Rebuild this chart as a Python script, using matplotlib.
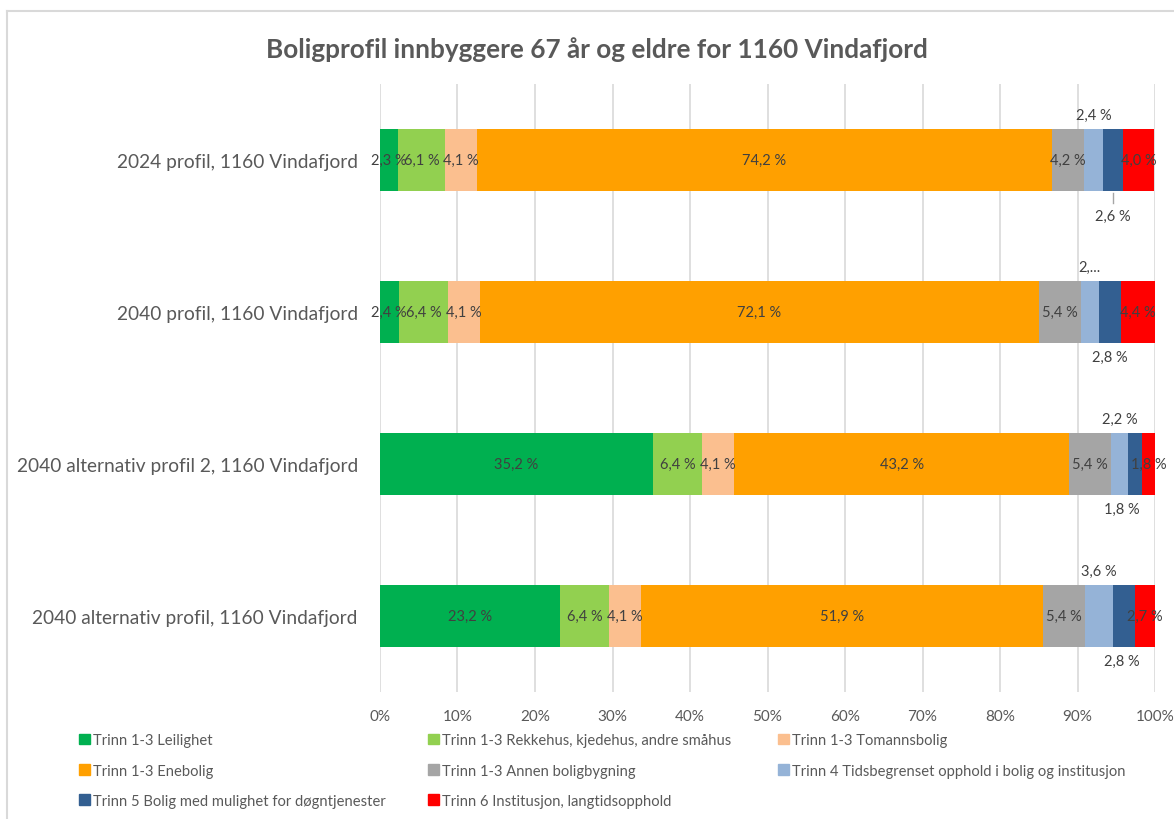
import numpy as np
import matplotlib.pyplot as plt
from matplotlib.patches import Patch

plt.rcParams['font.family'] = ['Lato', 'DejaVu Sans']

categories = ['2024 profil, 1160 Vindafjord',
              '2040 profil, 1160 Vindafjord',
              '2040 alternativ profil 2, 1160 Vindafjord',
              '2040 alternativ profil, 1160 Vindafjord']

series = ['Trinn 1-3 Leilighet',
          'Trinn 1-3 Rekkehus, kjedehus, andre småhus',
          'Trinn 1-3 Tomannsbolig',
          'Trinn 1-3 Enebolig',
          'Trinn 1-3 Annen boligbygning',
          'Trinn 4 Tidsbegrenset opphold i bolig og institusjon',
          'Trinn 5 Bolig med mulighet for døgntjenester',
          'Trinn 6 Institusjon, langtidsopphold']

# percent per category, one list per series
leilighet = [2.3, 2.4, 35.2, 23.2]
rekkehus = [6.1, 6.4, 6.4, 6.4]
tomanns = [4.1, 4.1, 4.1, 4.1]
enebolig = [74.2, 72.1, 43.2, 51.9]
annen = [4.2, 5.4, 5.4, 5.4]
trinn4 = [2.4, 2.4, 2.2, 3.6]
trinn5 = [2.6, 2.8, 1.8, 2.8]
trinn6 = [4.0, 4.4, 1.8, 2.7]

values = [leilighet, rekkehus, tomanns, enebolig, annen, trinn4, trinn5, trinn6]
colors = ['#00b050', '#92d050', '#fbbf8f', '#ffa000',
          '#a5a5a5', '#95b3d7', '#335f91', '#ff0000']

xticks = np.arange(0, 101, 10)

text_col = '#595959'
lab_col = '#404040'

def fmt(v):
    return ('%.1f %%' % v).replace('.', ',')

fig = plt.figure(figsize=(11.74, 8.2), dpi=100)
ax = fig.add_axes([380/1174, 1-693/820, 775/1174, 608/820])

y = np.arange(len(categories))
h = 0.41
left = np.zeros(len(categories))
for i, (vals, c) in enumerate(zip(values, colors)):
    vals = np.array(vals)
    ax.barh(y, vals, left=left, height=h, color=c, label=series[i], zorder=2)
    for j, v in enumerate(vals):
        cx = left[j] + v / 2
        if i == 5:
            # small segment, label above
            t = '2,...' if j == 1 else fmt(v)
            ax.text(cx, y[j] - h/2 - 0.095, t, ha='center', va='center',
                    fontsize=10.5, color=lab_col)
        elif i == 6:
            # label below
            off = 0.165 if j == 0 else 0.09
            ax.text(min(cx, 95.7), y[j] + h/2 + off, fmt(v), ha='center',
                    va='center', fontsize=10.5, color=lab_col)
            if j == 0:
                ax.plot([cx, cx], [y[j] + h/2 + 0.01, y[j] + h/2 + 0.075],
                        color='#a6a6a6', lw=1, zorder=3)
        else:
            ax.text(cx, y[j], fmt(v), ha='center', va='center',
                    fontsize=10.5, color=lab_col, zorder=4)
    left += vals

ax.set_xlim(0, 100)
ax.set_ylim(3.5, -0.5)
ax.set_xticks(xticks)
ax.set_xticklabels(['%d%%' % t for t in xticks], color=text_col, fontsize=11)
ax.set_yticks(y)
ax.set_yticklabels(categories, color=text_col, fontsize=13.8)
ax.tick_params(axis='both', length=0)
ax.tick_params(axis='x', pad=12)
ax.tick_params(axis='y', pad=16)
ax.grid(axis='x', color='#d9d9d9', lw=1.2, zorder=0)
for s in ax.spines.values():
    s.set_visible(False)

fig.text(597/1174, 1-50/820, 'Boligprofil innbyggere 67 år og eldre for 1160 Vindafjord',
         ha='center', va='center', fontsize=18.8, fontweight='bold', color=text_col)

# legend: three columns placed like the original
order = [[0, 3, 6], [1, 4, 7], [2, 5]]
xs = [72, 421, 771]
for col, x0 in zip(order, xs):
    hs = [Patch(color=colors[k]) for k in col]
    lg = fig.legend(hs, [series[k] for k in col], loc='upper left',
                    bbox_to_anchor=(x0/1174, 1-727/820), frameon=False,
                    fontsize=10.6, handlelength=0.7, handleheight=0.7,
                    handletextpad=0.2, labelspacing=1.1, borderpad=0)
    for t in lg.get_texts():
        t.set_color(text_col)

# chart border
fig.add_artist(plt.Line2D([7/1174, 7/1174], [0, 1-12/820], color='#d9d9d9', lw=1.5))
fig.add_artist(plt.Line2D([7/1174, 1], [1-12/820, 1-12/820], color='#d9d9d9', lw=1.5))

fig.savefig('out.png', dpi=100)
